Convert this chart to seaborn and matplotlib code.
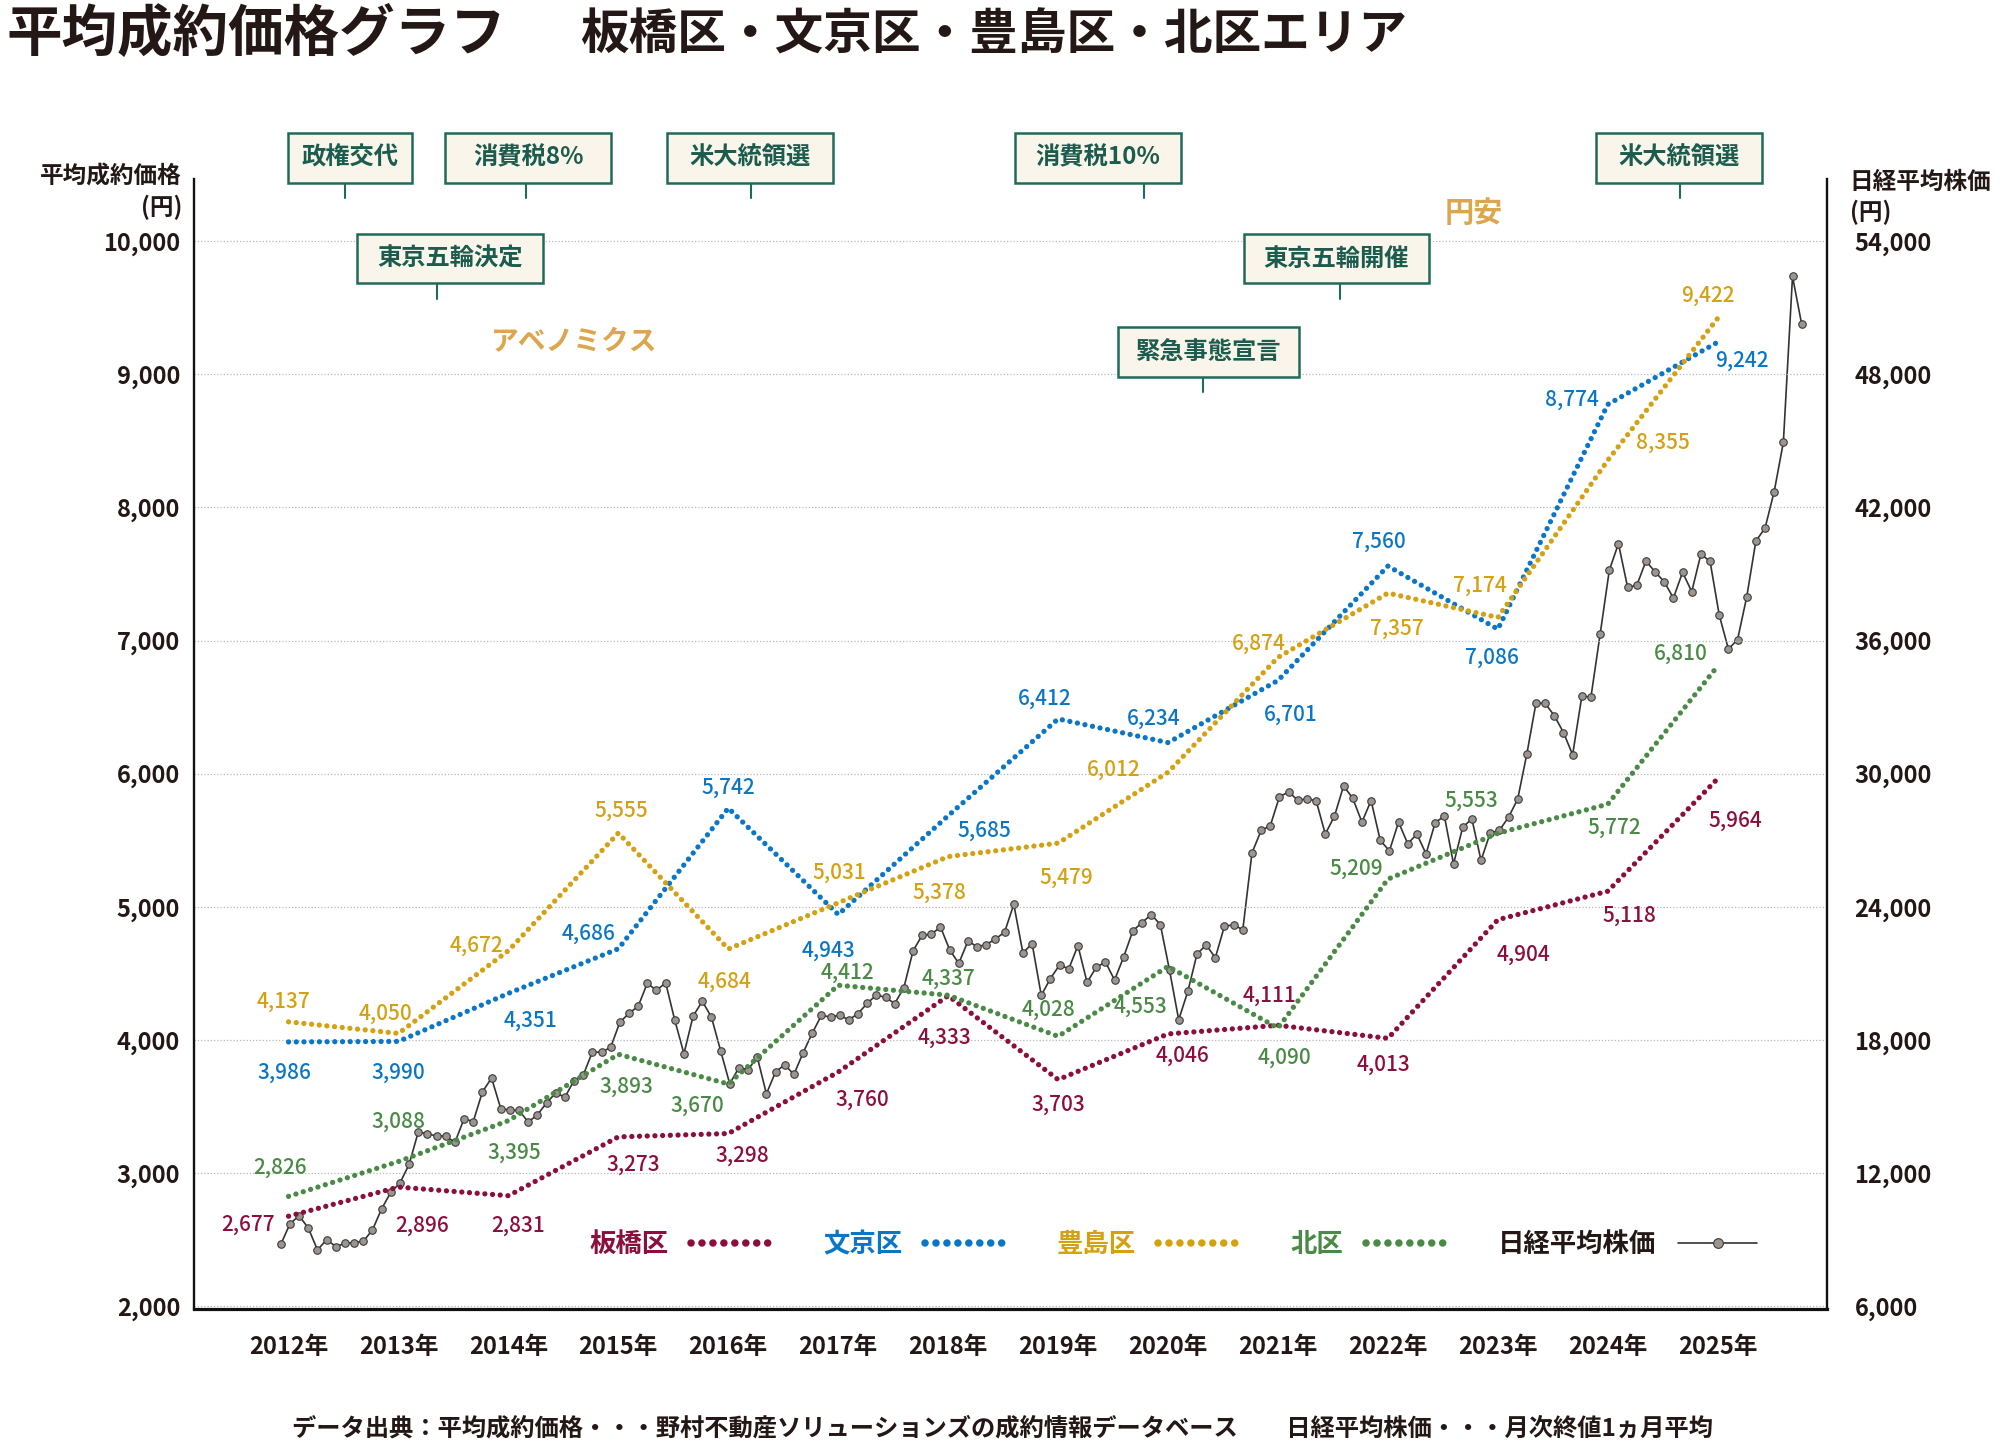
import matplotlib
matplotlib.use("Agg")
import matplotlib.pyplot as plt
from matplotlib.lines import Line2D
from matplotlib.patches import Rectangle
import seaborn as sns
import pandas as pd

# ---- data ----
years = list(range(2012, 2026))
itabashi = [2677, 2896, 2831, 3273, 3298, 3760, 4333, 3703, 4046, 4111, 4013, 4904, 5118, 5964]
bunkyo = [3986, 3990, 4351, 4686, 5742, 4943, 5685, 6412, 6234, 6701, 7560, 7086, 8774, 9242]
toshima = [4137, 4050, 4672, 5555, 4684, 5031, 5378, 5479, 6012, 6874, 7357, 7174, 8355, 9422]
kita = [2826, 3088, 3395, 3893, 3670, 4412, 4337, 4028, 4553, 4090, 5209, 5553, 5772, 6810]

# Nikkei 225 monthly values, Jan 2012 - Nov 2025
nikkei = [
    8803, 9723, 10084, 9521, 8543, 9007, 8695, 8840, 8870, 8928, 9446, 10395,
    11139, 11559, 12398, 13861, 13775, 13677, 13668, 13389, 14456, 14328, 15662, 16291,
    14915, 14841, 14828, 14304, 14632, 15162, 15621, 15425, 16174, 16414, 17460, 17451,
    17674, 18798, 19207, 19520, 20563, 20236, 20585, 18890, 17388, 19083, 19747, 19034,
    17518, 16027, 16759, 16666, 17235, 15576, 16569, 16887, 16450, 17425, 18308, 19114,
    19041, 19119, 18909, 19197, 19651, 20033, 19925, 19646, 20356, 22012, 22725, 22765,
    23098, 22068, 21454, 22468, 22202, 22305, 22554, 22865, 24120, 21920, 22351, 20015,
    20773, 21385, 21206, 22259, 20601, 21276, 21522, 20704, 21756, 22927, 23294, 23657,
    23205, 21143, 18917, 20194, 21878, 22288, 21710, 23140, 23185, 22977, 26434, 27444,
    27663, 28966, 29179, 28813, 28860, 28792, 27284, 28090, 29453, 28893, 27822, 28792,
    27002, 26527, 27821, 26848, 27280, 26393, 27802, 28092, 25937, 27587, 27969, 26095,
    27327, 27446, 28041, 28856, 30888, 33189, 33172, 32619, 31858, 30859, 33487, 33464,
    36287, 39166, 40369, 38406, 38488, 39583, 39102, 38648, 37920, 39081, 38208, 39895,
    39572, 37156, 35618, 36045, 37965, 40487, 41070, 42718, 44933, 52411, 50254,
]
months = pd.period_range("2012-01", periods=len(nikkei), freq="M")

events = ["政権交代", "消費税8%", "米大統領選", "消費税10%", "米大統領選",
          "東京五輪決定", "東京五輪開催", "緊急事態宣言"]
event_x = [2012.51, 2014.16, 2016.21, 2019.78, 2024.66, 2013.35, 2021.56, 2020.32]
event_row = [1, 1, 1, 1, 1, 2, 2, 3]

# ---- style ----
C_ITA = "#8a0f3c"
C_BUN = "#0b76c5"
C_TOS = "#d3a112"
C_KITA = "#4b8a46"
C_TXT = "#231815"
C_BOX_EDGE = "#1f6a5b"
C_BOX_TXT = "#1c5c4e"
C_BOX_FILL = "#f9f5ea"
C_NOTE = "#dca64e"

DOT = (0, (0.01, 1.45))

# label offsets in pixels (dx, dy) from each yearly point
off_ita = [(-40, -9), (24, -39), (10, -30), (15, -28), (14, -22), (24, -28), (-4, -42),
           (0, -25), (14, -22), (-9, 30), (-4, -26), (26, -35), (22, -25), (18, -42)]
off_bun = [(-4, -31), (0, -31), (22, -27), (-30, 15), (0, 20), (-10, -36), (36, -15),
           (-13, 20), (-14, 24), (13, -34), (-9, 24), (-6, -29), (-36, 5), (24, -19)]
off_tos = [(-5, 20), (-13, 20), (-32, 5), (3, 22), (-4, -33), (1, 30), (-9, -36),
           (8, -35), (-54, 2), (-19, 14), (9, -36), (-18, 32), (55, 17), (-10, 22)]
off_kita = [(-8, 29), (0, 40), (6, -32), (8, -32), (-31, -22), (9, 12), (0, 16),
            (-10, 27), (-28, -40), (6, -30), (-32, 10), (-27, 33), (6, -24), (-37, 12)]

box_dx = [0.05, 0.02, -0.01, -0.42, -0.01, 0.12, -0.03, 0.05]
box_w = [1.125, 1.508, 1.508, 1.508, 1.508, 1.694, 1.682, 1.647]
row_y = {1: 10627, 2: 9870, 3: 9166}
box_h = 374

sns.set_theme(style="white")
plt.rcParams["font.family"] = ["Noto Sans CJK JP", "DejaVu Sans"]
plt.rcParams["axes.unicode_minus"] = False

fig = plt.figure(figsize=(20, 14.45), dpi=100)
fig.patch.set_facecolor("white")
ax = fig.add_axes([0.097, 0.0941, 0.8163, 0.7823])
ax2 = ax.twinx()
ax.set_zorder(ax2.get_zorder() + 1)
ax.patch.set_visible(False)

# Nikkei line (right axis)
nk = pd.DataFrame({"x": [m.year + (m.month - 1) / 12 - 0.07 for m in months], "v": nikkei})
sns.lineplot(data=nk, x="x", y="v", ax=ax2, color="#333333", lw=1.2,
             marker="o", markersize=5.4, markerfacecolor="#9c958f",
             markeredgecolor="#3a3a3a", markeredgewidth=0.8, legend=False)

series = [("板橋区", itabashi, C_ITA, off_ita), ("文京区", bunkyo, C_BUN, off_bun),
          ("豊島区", toshima, C_TOS, off_tos), ("北区", kita, C_KITA, off_kita)]
handles = []
for name, vals, col, offs in series:
    df = pd.DataFrame({"year": years, "v": vals})
    sns.lineplot(data=df, x="year", y="v", ax=ax, color=col, lw=3.8,
                 linestyle=DOT, dash_capstyle="round", legend=False)
    for yr, v, (dx, dy) in zip(years, vals, offs):
        ax.annotate(f"{v:,}", (yr, v), xytext=(dx, dy), textcoords="offset pixels",
                    ha="center", va="center", fontsize=15, color=col,
                    fontweight="medium")
    handles.append(Line2D([], [], color=col, lw=5.4, linestyle=(0, (0.01, 1.45)),
                          dash_capstyle="round"))
handles.append(Line2D([], [], color="#333333", lw=1.2, marker="o", markersize=7,
                      markerfacecolor="#9c958f", markeredgecolor="#3a3a3a",
                      markeredgewidth=0.8))

# axes
ax.set_xlim(2011.14, 2025.99)
ax.set_ylim(1980, 10470)
ax2.set_ylim(5880, 56820)
ax.set_xticks(years)
ax.set_xticklabels([f"{y}年" for y in years])
ax.set_yticks(range(2000, 10001, 1000))
ax.set_yticklabels([f"{v:,}" for v in range(2000, 10001, 1000)])
ax2.set_yticks(range(6000, 54001, 6000))
ax2.set_yticklabels([f"{v:,}" for v in range(6000, 54001, 6000)])
ax.set_xlabel("")
ax.set_ylabel("")
ax2.set_ylabel("")

ax.grid(axis="y", color="#b8b8b8", linestyle=(0, (1, 1.6)), lw=0.9)
ax.grid(axis="x", visible=False)
ax2.grid(False)
ax.spines["top"].set_visible(False)
for s in ax2.spines.values():
    s.set_visible(False)
ax.spines["left"].set_linewidth(1.7)
ax.spines["right"].set_linewidth(1.7)
ax.spines["bottom"].set_linewidth(2.3)
for s in ["left", "right", "bottom"]:
    ax.spines[s].set_color("#111111")

ax.tick_params(axis="x", direction="inout", length=10, width=1.3, color="#111111",
               pad=14, labelsize=17, labelcolor=C_TXT)
ax.tick_params(axis="y", length=0, pad=10, labelsize=17, labelcolor=C_TXT)
ax2.tick_params(axis="y", length=0, pad=20, labelsize=17, labelcolor=C_TXT)
for lab in ax.get_xticklabels() + ax.get_yticklabels() + ax2.get_yticklabels():
    lab.set_fontweight("bold")

# event boxes
for name, ex, row, dx, w in zip(events, event_x, event_row, box_dx, box_w):
    cy = row_y[row]
    cx = ex + dx
    ax.plot([ex, ex], [cy - box_h / 2, cy - box_h / 2 - 115], color=C_BOX_EDGE,
            lw=1.5, clip_on=False, zorder=5)
    ax.add_patch(Rectangle((cx - w / 2, cy - box_h / 2), w, box_h, facecolor=C_BOX_FILL,
                           edgecolor=C_BOX_EDGE, lw=1.8, clip_on=False, zorder=6))
    ax.text(cx, cy, name, ha="center", va="center", fontsize=17.5, fontweight="bold",
            color=C_BOX_TXT, zorder=7, clip_on=False)

ax.text(2014.6, 9243, "アベノミクス", ha="center", va="center", fontsize=20,
        fontweight="bold", color=C_NOTE)
ax.text(2022.78, 10210, "円安", ha="center", va="center", fontsize=21,
        fontweight="bold", color=C_NOTE)

# legend
leg = ax.legend(handles, ["板橋区", "文京区", "豊島区", "北区", "日経平均株価"],
                ncol=5, markerfirst=False, frameon=False, loc="center",
                bbox_to_anchor=(0.60, 0.057), handlelength=3.0, handletextpad=0.85,
                columnspacing=2.0, prop={"size": 19, "weight": "bold"})
for t, c in zip(leg.get_texts(), [C_ITA, C_BUN, C_TOS, C_KITA, C_TXT]):
    t.set_color(c)

# titles and axis captions
fig.text(0.003, 0.976, "平均成約価格グラフ", ha="left", va="center", fontsize=40,
         fontweight="bold", color=C_TXT)
fig.text(0.29, 0.976, "板橋区・文京区・豊島区・北区エリア", ha="left", va="center",
         fontsize=35, fontweight="bold", color=C_TXT)
fig.text(0.091, 0.8667, "平均成約価格\n(円)", ha="right", va="center", fontsize=17,
         fontweight="bold", color=C_TXT, linespacing=1.3, multialignment="right")
fig.text(0.9248, 0.8632, "日経平均株価\n(円)", ha="left", va="center", fontsize=17,
         fontweight="bold", color=C_TXT, linespacing=1.3, multialignment="left")
fig.text(0.5013, 0.0113,
         "データ出典：平均成約価格・・・野村不動産ソリューションズの成約情報データベース　　日経平均株価・・・月次終値1ヵ月平均",
         ha="center", va="center", fontsize=17.5, fontweight="bold", color=C_TXT)

fig.savefig("out.png", dpi=100)
